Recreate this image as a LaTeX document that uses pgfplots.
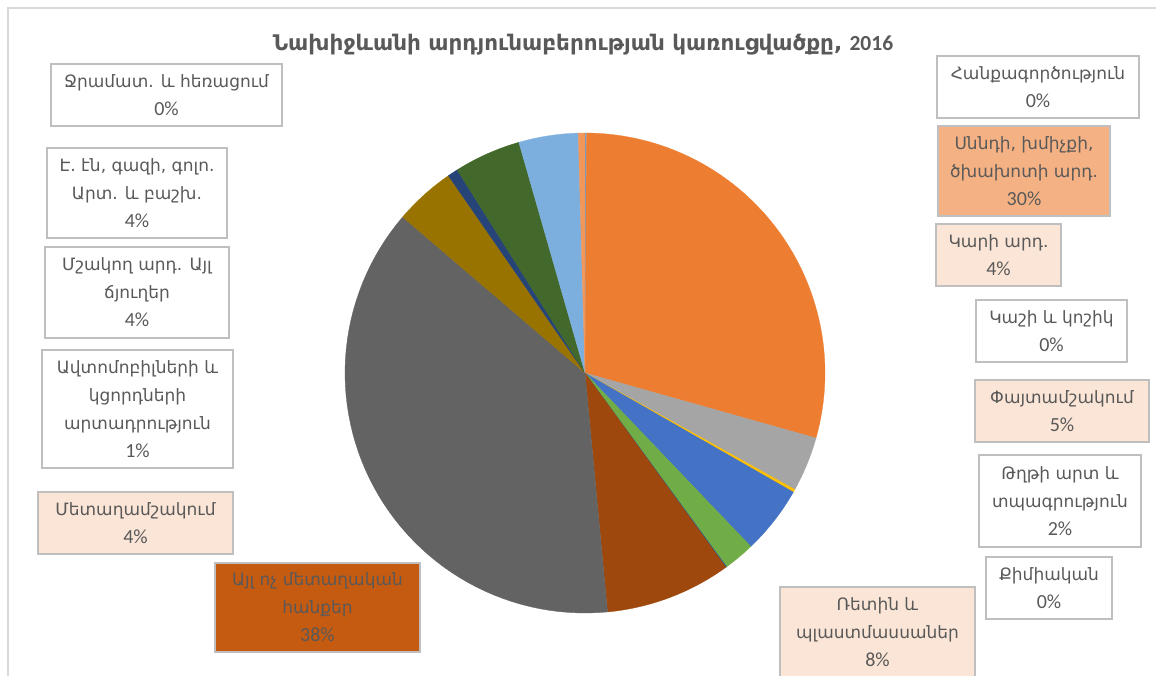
\documentclass[border=0pt]{standalone}
\usepackage{pgfplots}
\pgfplotsset{compat=1.18}
\usepackage{pgfplotstable}
\usepackage{fontspec}
\setmainfont{DejaVu Sans}
\newfontfamily\numfont{Carlito}
\newcommand\pct[1]{{\numfont\fontsize{20}{28}\selectfont #1\%}}
\definecolor{txt}{HTML}{595959}
\definecolor{boxline}{HTML}{BFBFBF}
\definecolor{frame}{HTML}{D9D9D9}
\definecolor{fillA}{HTML}{F4B183}
\definecolor{fillB}{HTML}{FBE5D6}
\definecolor{fillC}{HTML}{C55A11}
\definecolor{slice0}{HTML}{5B9BD5}
\definecolor{slice1}{HTML}{ED7D31}
\definecolor{slice2}{HTML}{A5A5A5}
\definecolor{slice3}{HTML}{FFC000}
\definecolor{slice4}{HTML}{4472C4}
\definecolor{slice5}{HTML}{70AD47}
\definecolor{slice6}{HTML}{255E91}
\definecolor{slice7}{HTML}{9E480E}
\definecolor{slice8}{HTML}{636363}
\definecolor{slice9}{HTML}{997300}
\definecolor{slice10}{HTML}{264478}
\definecolor{slice11}{HTML}{43682B}
\definecolor{slice12}{HTML}{7CAFDD}
\definecolor{slice13}{HTML}{F1975A}
% shares (%) of the sectors, clockwise from 12 o'clock
\pgfplotstableread{
val
0.1
29.3
3.7
0.2
4.6
2.1
0.05
8.5
37.8
4.1
0.7
4.5
4.0
0.45
}\piedata
\pgfplotstablecreatecol[create col/expr accum={\pgfmathaccuma + \thisrow{val}}{0}]{cum}\piedata
\begin{document}
\begin{tikzpicture}[lbl/.style={draw=boxline, line width=1.5pt, align=center, inner sep=2pt,
    text=txt, font=\fontsize{17}{28}\selectfont}]
\pgfplotstablegetelem{13}{cum}\of\piedata
\let\total\pgfplotsretval
\begin{axis}[hide axis, scale only axis, width=1156pt, height=675pt,
  xmin=0, xmax=1156, ymin=0, ymax=675, y dir=reverse, clip=false]
\pgfplotsinvokeforeach{0,...,13}{
  \pgfplotstablegetelem{#1}{cum}\of\piedata \let\cumv\pgfplotsretval
  \pgfplotstablegetelem{#1}{val}\of\piedata \let\valv\pgfplotsretval
  \pgfmathsetmacro\aend{90-(\cumv/\total)*360}
  \pgfmathsetmacro\astart{90-((\cumv-\valv)/\total)*360}
  \edef\temp{\noexpand\addplot[fill=slice#1, draw=slice#1, line width=0.3pt,
     domain=\aend:\astart, samples=60, variable=\noexpand\t]
     ({585+240*cos(\noexpand\t)},{373-240*sin(\noexpand\t)}) -- (axis cs:585,373) -- cycle;}
  \temp
}
\draw[frame, line width=1.5pt] (axis cs:8,700) -- (axis cs:8,8) -- (axis cs:1180,8);
\node[text=txt, font=\bfseries\fontsize{21.5}{24}\selectfont] at (axis cs:583,45)
  {Նախիջևանի արդյունաբերության կառուցվածքը, {\numfont 2016}};
% right side labels
\node[lbl, minimum width=202pt, minimum height=62pt] at (axis cs:1038,87)
  {Հանքագործություն\\\pct{0}};
\node[lbl, fill=fillA, minimum width=172pt, minimum height=90pt] at (axis cs:1024,171)
  {Սննդի, խմիչքի,\\ծխախոտի արդ.\\\pct{30}};
\node[lbl, fill=fillB, minimum width=125pt, minimum height=62pt] at (axis cs:998.5,255)
  {Կարի արդ.\\\pct{4}};
\node[lbl, minimum width=151pt, minimum height=62pt] at (axis cs:1051.5,331)
  {Կաշի և կոշիկ\\\pct{0}};
\node[lbl, fill=fillB, minimum width=174pt, minimum height=62pt] at (axis cs:1062,411)
  {Փայտամշակում\\\pct{5}};
\node[lbl, minimum width=162pt, minimum height=92pt] at (axis cs:1060,501)
  {Թղթի արտ և\\տպագրություն\\\pct{2}};
\node[lbl, minimum width=126pt, minimum height=62pt] at (axis cs:1049,588)
  {Քիմիական\\\pct{0}};
\node[lbl, fill=fillB, minimum width=195pt, minimum height=90pt] at (axis cs:877.5,632)
  {Ռետին և\\պլաստմասսաներ\\\pct{8}};
% left side labels
\node[lbl, fill=fillC, minimum width=205pt, minimum height=89pt] at (axis cs:317.5,607.5)
  {Այլ ոչ մետաղական\\հանքեր\\\pct{38}};
\node[lbl, fill=fillB, minimum width=195pt, minimum height=62pt] at (axis cs:135.5,523)
  {Մետաղամշակում\\\pct{4}};
\node[lbl, minimum width=191pt, minimum height=118pt] at (axis cs:137.5,409)
  {Ավտոմոբիլների և\\կցորդների\\արտադրություն\\\pct{1}};
\node[lbl, minimum width=184pt, minimum height=91pt] at (axis cs:137,292.5)
  {Մշակող արդ. Այլ\\ճյուղեր\\\pct{4}};
\node[lbl, minimum width=180pt, minimum height=90pt] at (axis cs:137,193)
  {Է. էն, գազի, գոլո.\\Արտ. և բաշխ.\\\pct{4}};
\node[lbl, minimum width=231pt, minimum height=62pt] at (axis cs:166.5,95)
  {Ջրամատ. և հեռացում\\\pct{0}};
\end{axis}
\pgfresetboundingbox
\path (0,0) rectangle (1156pt,675pt);
\end{tikzpicture}
\end{document}
